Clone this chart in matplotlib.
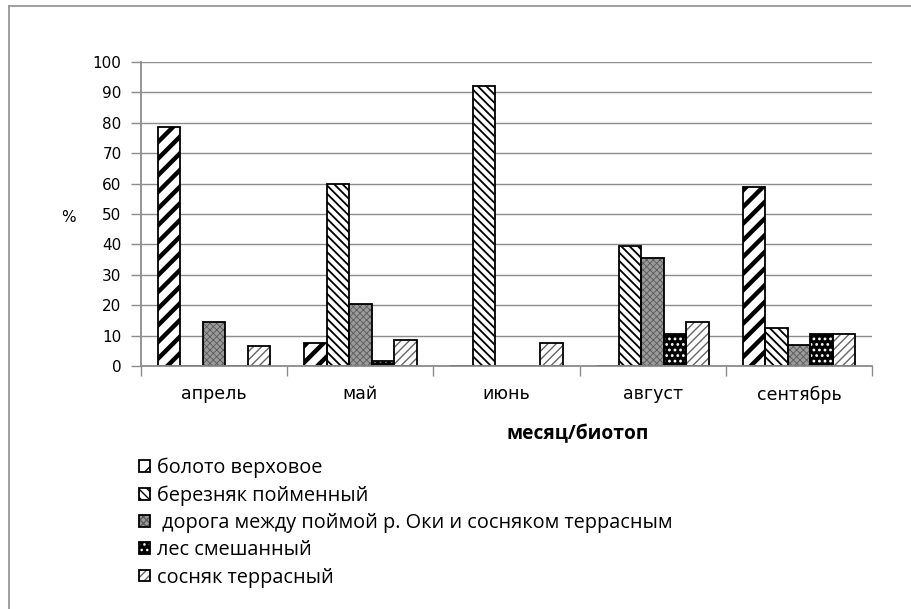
import matplotlib
matplotlib.use("Agg")
import matplotlib.pyplot as plt
import numpy as np
from matplotlib.legend_handler import HandlerTuple
from matplotlib.lines import Line2D

months = ["апрель", "май", "июнь", "август", "сентябрь"]
series_names = ["болото верховое", "березняк пойменный",
                " дорога между поймой р. Оки и сосняком террасным",
                "лес смешанный", "сосняк террасный"]
boloto = [78.5, 7.5, 0, 0, 59]
bereznyak = [0, 60, 92, 39.5, 12.5]
doroga = [14.5, 20.5, 0, 35.5, 7]
les = [0, 1.5, 0, 10.5, 10.5]
sosnyak = [6.5, 8.5, 7.5, 14.5, 10.5]
yticks = list(range(0, 101, 10))
series = [boloto, bereznyak, doroga, les, sosnyak]

# style: (facecolor, hatch, hatchcolor, hatch linewidth)
styles = [
    ("white", "//", "black", 3.2),
    ("white", "\\\\\\\\", "black", 1.3),
    ("#9a9a9a", "xxxxx", "#5a5a5a", 0.6),
    ("black", "...", "white", 1.2),
    ("white", "////", "#666666", 1.0),
]

W, H = 912, 609
fig = plt.figure(figsize=(W / 100, H / 100), dpi=100)
fig.patch.set_facecolor("white")

# outer frame (top and left edges)
fig.add_artist(Line2D([9 / W, 1.0], [1 - 6 / H, 1 - 6 / H], color="#999999", lw=1.3,
                      transform=fig.transFigure))
fig.add_artist(Line2D([9 / W, 9 / W], [1 - 6 / H, 0.0], color="#999999", lw=1.3,
                      transform=fig.transFigure))

ax = fig.add_axes([141 / W, 1 - 366 / H, (872 - 141) / W, (366 - 62) / H])
x = np.arange(len(months))
bw = 0.154
handles = []
for j, (vals, st) in enumerate(zip(series, styles)):
    fc, hatch, hc, hlw = st
    pos = x + (j - 2) * bw
    with plt.rc_context({"hatch.linewidth": hlw}):
        b1 = ax.bar(pos, vals, width=bw, color=fc, hatch=hatch, edgecolor=hc,
                    linewidth=0, zorder=3)
    for p in b1:
        if hasattr(p, "set_hatch_linewidth"):
            p.set_hatch_linewidth(hlw)
    b2 = ax.bar(pos, vals, width=bw, fill=False, edgecolor="black", linewidth=1.3, zorder=4)
    handles.append((b1[0], b2[0]))

ax.set_xlim(-0.5, len(months) - 0.5)
ax.set_ylim(0, 100)
ax.set_yticks(yticks)
ax.set_xticks(x)
ax.set_xticklabels(months, fontsize=12.5, family=["DejaVu Sans"])
ax.set_xticks(np.arange(-0.5, len(months), 1.0), minor=True)
ax.tick_params(axis="x", which="major", length=0, pad=14)
ax.tick_params(axis="x", which="minor", length=7, color="#8c8c8c", width=1)
ax.tick_params(axis="y", length=7, color="#8c8c8c", width=1, labelsize=11, pad=7)
ax.grid(axis="y", color="#8c8c8c", lw=1, zorder=0)
ax.set_axisbelow(True)
for s in ["top", "right"]:
    ax.spines[s].set_visible(False)
for s in ["left", "bottom"]:
    ax.spines[s].set_color("#8c8c8c")
    ax.spines[s].set_linewidth(1.3)
    ax.spines[s].set_zorder(5)

fig.text(68 / W, 1 - 217 / H, "%", fontsize=11, ha="center", va="center")
fig.text(578 / W, 1 - 434 / H, "месяц/биотоп", fontsize=13.8, fontweight="bold",
         ha="center", va="center", family=["Open Sans", "DejaVu Sans"])

leg = fig.legend(handles, series_names, handler_map={tuple: HandlerTuple(ndivide=1)},
                 loc="upper left", bbox_to_anchor=(139 / W, 1 - 458 / H),
                 frameon=False, handlelength=0.55, handleheight=0.55,
                 handletextpad=0.35, labelspacing=0.36, borderpad=0, borderaxespad=0,
                 prop={"family": ["Open Sans", "DejaVu Sans"], "size": 14.3})

fig.savefig("out.png", dpi=100)
